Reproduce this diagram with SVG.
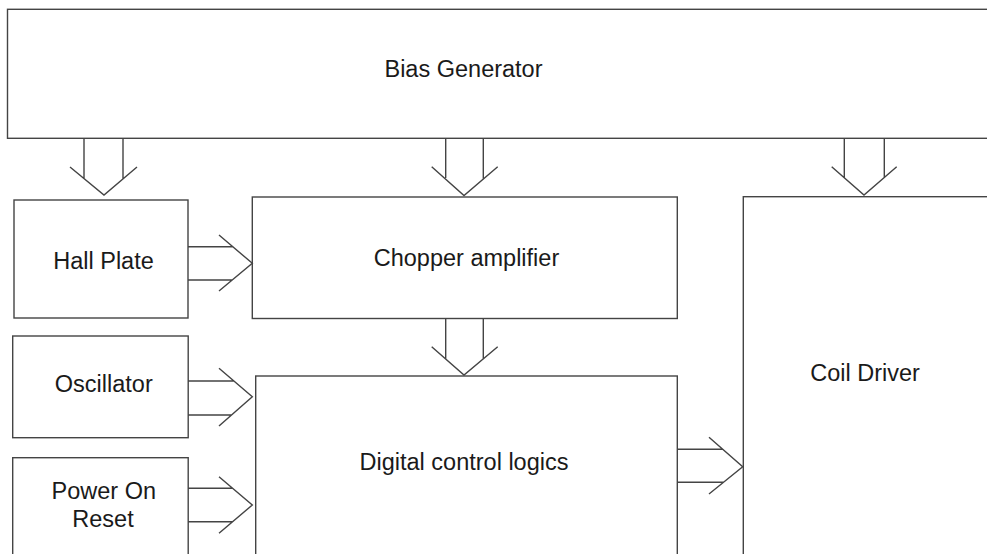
<svg xmlns="http://www.w3.org/2000/svg" width="987" height="554" viewBox="0 0 987 554">
<style>
.box{fill:#fff;stroke:#444;stroke-width:1.4}
.ln{fill:none;stroke:#444;stroke-width:1.4}
.t{font-family:"Liberation Sans",Arial,sans-serif;font-size:23.5px;fill:#1a1a1a;text-anchor:middle}
</style>
<rect x="0" y="0" width="987" height="554" fill="#fff"/>
<g id="bias-generator"><rect class="box" x="7.5" y="9.3" width="1000" height="129"/><text class="t" x="463.5" y="77.3">Bias Generator</text></g>
<g id="hall-plate"><rect class="box" x="14" y="200" width="174" height="118"/><text class="t" x="103.5" y="269.3">Hall Plate</text></g>
<g id="oscillator"><rect class="box" x="12.7" y="336" width="175.5" height="101.7"/><text class="t" x="103.8" y="392.3">Oscillator</text></g>
<g id="power-on-reset"><rect class="box" x="12.7" y="457.7" width="175.5" height="120"/><text class="t" x="103.8" y="499">Power On</text><text class="t" x="103" y="526.7">Reset</text></g>
<g id="chopper-amplifier"><rect class="box" x="252.3" y="197" width="425" height="121.5"/><text class="t" x="466.5" y="265.7">Chopper amplifier</text></g>
<g id="digital-control-logics"><rect class="box" x="255.7" y="376" width="421.6" height="200"/><text class="t" x="464" y="470">Digital control logics</text></g>
<g id="coil-driver"><rect class="box" x="743.3" y="196.7" width="260" height="380"/><text class="t" x="865" y="380.7">Coil Driver</text></g>
<g id="connectors">
<!-- Bias -> Hall Plate -->
<path class="ln" d="M84,138.3V178.5 M123,138.3V178.9 M70,167 L104,195 L137,167"/>
<!-- Bias -> Chopper -->
<path class="ln" d="M445.7,138.3V178 M483.3,138.3V178.5 M431.7,166.7 L464,195.5 L497.7,166.7"/>
<!-- Bias -> Coil -->
<path class="ln" d="M844.3,138.3V177.9 M884.3,138.3V177.8 M831.7,166.7 L864,195 L896.7,166.7"/>
<!-- Chopper -> Digital -->
<path class="ln" d="M445.7,318.5V358.8 M483.3,318.5V358.6 M431.7,346.7 L464,375 L497.7,346.7"/>
<!-- Hall -> Chopper -->
<path class="ln" d="M188,246.7H232.8 M188,280H232.2 M219,235 L252.3,263.3 L219,291"/>
<!-- Oscillator -> Digital -->
<path class="ln" d="M188,381H233.9 M188,415H231.5 M219,368.3 L252.3,396.7 L219,426"/>
<!-- POR -> Digital -->
<path class="ln" d="M188,488.3H232.6 M188,521.7H232.7 M219,476.7 L252.3,505 L219,533.3"/>
<!-- Digital -> Coil -->
<path class="ln" d="M677.3,449.3H722.8 M677.3,482.3H723.4 M709,437.3 L742.7,466.7 L709,494"/>
</g>
</svg>
